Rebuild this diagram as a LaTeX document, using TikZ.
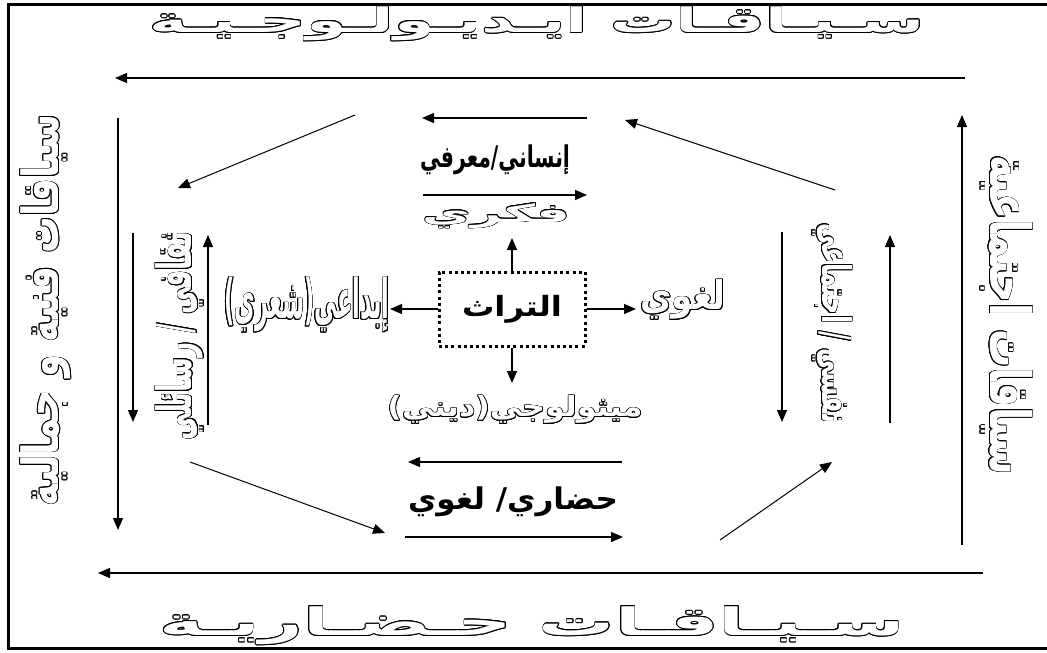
\documentclass[tikz,border=0pt]{standalone}
\usepackage{fontspec}
\usepackage{graphicx}
\usepackage{contour}
\usetikzlibrary{arrows.meta}
\TeXXeTstate=1
\newfontfamily\ar[Script=Arabic]{DejaVu Sans}
\contourlength{0.7pt}
\newcommand{\AR}[1]{\ar\beginR #1\endR}
\newcommand{\hol}[3]{\textcolor{white}{\contour{black}{\resizebox*{#1}{#2}{\ar\bfseries\beginR #3\endR}}}}
\newcommand{\sol}[3]{\resizebox*{#1}{#2}{\ar\bfseries\beginR #3\endR}}
\tikzset{
  arr/.style={-{Triangle[length=12pt,width=10pt]}, line width=1.3pt},
  lbl/.style={inner sep=0pt, outer sep=0pt},
  heritage/.style={draw, line width=3pt, dash pattern=on 3pt off 3.2pt, minimum width=146pt, minimum height=74pt, inner sep=0pt}
}
\begin{document}
\begin{tikzpicture}[x=1pt,y=-1pt]
\fill[white] (0,0) rectangle (1047,653);
\useasboundingbox (0,0) rectangle (1047,653);
\clip (0,0) rectangle (1047,653);
% frame
\draw[line width=3pt] (1060,4) -- (8,4) -- (8,648) -- (1060,648);

% outer titles
\node[lbl] (ttop) at (537,24) {\hol{775pt}{34pt}{\beginR سـيـاقـات ايـديـولـوجـيـة\endR}};
\node[lbl] (tbot) at (532,626) {\hol{745pt}{38pt}{\beginR سـيـاقـات حـضـاريـة\endR}};
\node[lbl, rotate=90] (tleft) at (46,310) {\hol{392pt}{50pt}{\beginR سياقات فنية و جمالية\endR}};
\node[lbl, rotate=-90] (tright) at (1006,315) {\hol{320pt}{52pt}{\beginR سياقات اجتماعية\endR}};

% outer arrows
\coordinate (a1s) at (965,78);  \coordinate (a1e) at (115,78);
\coordinate (a2s) at (983,573); \coordinate (a2e) at (98,573);
\coordinate (a3s) at (118,118); \coordinate (a3e) at (118,530);
\coordinate (a4s) at (962,545); \coordinate (a4e) at (962,115);
\draw[arr] (a1s) -- (a1e);
\draw[arr] (a2s) -- (a2e);
\draw[arr] (a3s) -- (a3e);
\draw[arr] (a4s) -- (a4e);

% centre
\node[heritage] (tur) at (512,309) {\sol{100pt}{28pt}{التراث}};
\node[lbl] (fikri) at (496,216) {\hol{148pt}{25pt}{فكري}};
\node[lbl] (lughawi) at (683,300) {\hol{85pt}{40pt}{لغوي}};
\node[lbl] (mith) at (515,410) {\hol{255pt}{28pt}{ميثولوجي(ديني)}};
\node[lbl] (ibdai) at (307,305) {\hol{165pt}{55pt}{إبداعي(شعري)}};
\coordinate (cu) at (512,238);
\coordinate (cr) at (636,309);
\coordinate (cd) at (512,383);
\coordinate (cl) at (390,309);
\draw[arr] (tur.north) -- (cu);
\draw[arr] (tur.east) -- (cr);
\draw[arr] (tur.south) -- (cd);
\draw[arr] (tur.west) -- (cl);

% top inner
\node[lbl] (insani) at (495,160) {\sol{150pt}{30pt}{إنساني/معرفي}};
\coordinate (t1s) at (587,118); \coordinate (t1e) at (422,118);
\coordinate (t2s) at (423,195); \coordinate (t2e) at (587,195);
\draw[arr] (t1s) -- (t1e);
\draw[arr] (t2s) -- (t2e);

% bottom inner
\node[lbl] (hadari) at (513,502) {\sol{210pt}{30pt}{\beginR حضاري/ لغوي\endR}};
\coordinate (b1s) at (622,462); \coordinate (b1e) at (408,462);
\coordinate (b2s) at (405,537); \coordinate (b2e) at (623,537);
\draw[arr] (b1s) -- (b1e);
\draw[arr] (b2s) -- (b2e);

% left inner
\node[lbl, rotate=90] (thaqafi) at (180,336) {\hol{208pt}{48pt}{\beginR ثقافي / رسائلي\endR}};
\coordinate (l1s) at (133,233); \coordinate (l1e) at (133,422);
\coordinate (l2s) at (208,425); \coordinate (l2e) at (208,235);
\draw[arr] (l1s) -- (l1e);
\draw[arr] (l2s) -- (l2e);

% right inner
\node[lbl, rotate=-90] (nafsi) at (832,323) {\hol{200pt}{40pt}{\beginR نفسي / اجتماعي\endR}};
\coordinate (r1s) at (782,232); \coordinate (r1e) at (782,422);
\coordinate (r2s) at (890,423); \coordinate (r2e) at (890,235);
\draw[arr] (r1s) -- (r1e);
\draw[arr] (r2s) -- (r2e);

% diagonals
\coordinate (d1s) at (355,115); \coordinate (d1e) at (178,188);
\coordinate (d2s) at (835,190); \coordinate (d2e) at (625,120);
\coordinate (d3s) at (190,462); \coordinate (d3e) at (385,533);
\coordinate (d4s) at (720,540); \coordinate (d4e) at (832,462);
\draw[arr, line width=1pt] (d1s) -- (d1e);
\draw[arr, line width=1pt] (d2s) -- (d2e);
\draw[arr, line width=1pt] (d3s) -- (d3e);
\draw[arr, line width=1pt] (d4s) -- (d4e);
\end{tikzpicture}
\end{document}
